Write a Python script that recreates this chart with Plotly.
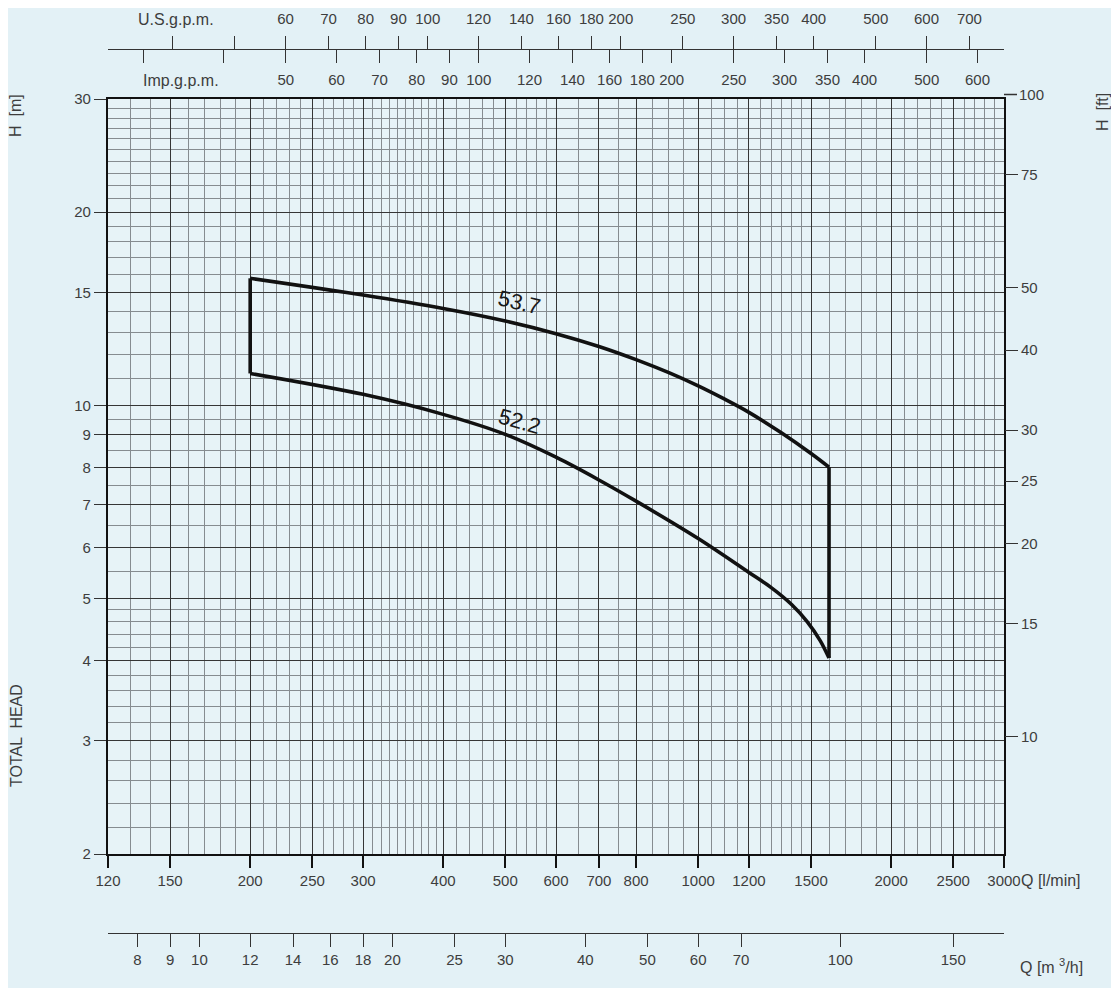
import math
import plotly.graph_objects as go

# ---------------- data ----------------
q_upper = [200, 300, 400, 500, 600, 700, 800, 900, 1000, 1100, 1200, 1350, 1500, 1600]
h_upper = [15.77, 14.85, 14.15, 13.53, 12.93, 12.35, 11.78, 11.24, 10.72, 10.22, 9.75, 9.05, 8.41, 8.01]
q_lower = [200, 300, 400, 500, 600, 700, 800, 1000, 1200, 1300, 1400, 1480, 1550, 1600]
h_lower = [11.21, 10.40, 9.68, 9.01, 8.30, 7.65, 7.09, 6.20, 5.49, 5.20, 4.89, 4.60, 4.30, 4.04]

curve_labels = ["53.7", "52.2"]
label_q = [527, 527]
label_h = [14.48, 9.42]

q_lmin_ticks = [120, 150, 200, 250, 300, 400, 500, 600, 700, 800, 1000, 1200, 1500, 2000, 2500, 3000]
q_lmin_minor = ([130, 140, 160, 170, 180, 190]
                + [210, 220, 230, 240, 260, 270, 280, 290]
                + [310, 320, 330, 340, 350, 360, 370, 380, 390]
                + [420, 440, 460, 480, 520, 540, 560, 580]
                + [650, 750, 850, 900, 950, 1050, 1100, 1150]
                + [1250, 1300, 1350, 1400, 1450, 1600, 1700, 1800, 1900]
                + [2100, 2200, 2300, 2400, 2600, 2700, 2800, 2900])
h_m_ticks = [2, 3, 4, 5, 6, 7, 8, 9, 10, 15, 20, 30]
h_m_minor = ([2.2, 2.4, 2.6, 2.8, 3.2, 3.4, 3.6, 3.8, 4.2, 4.4, 4.6, 4.8]
             + [5.5, 6.5, 7.5, 8.5, 9.5]
             + [11, 12, 13, 14, 16, 17, 18, 19, 21, 22, 23, 24, 25, 26, 27, 28, 29])
h_ft_ticks = [10, 15, 20, 25, 30, 40, 50, 75, 100]
us_gpm_ticks = [60, 70, 80, 90, 100, 120, 140, 160, 180, 200, 250, 300, 350, 400, 500, 600, 700]
us_gpm_unlabeled = [40, 50]
imp_gpm_ticks = [50, 60, 70, 80, 90, 100, 120, 140, 160, 180, 200, 250, 300, 350, 400, 500, 600]
imp_gpm_unlabeled = [30, 40]
m3h_ticks = [8, 9, 10, 12, 14, 16, 18, 20, 25, 30, 40, 50, 60, 70, 100, 150]

# unit conversions
L_PER_USGAL = 3.78541
L_PER_IMPGAL = 4.54609
M_TO_FT = 3.28084
LMIN_TO_M3H = 0.06

Q_MIN, Q_MAX = 120, 3000
H_MIN, H_MAX = 2, 30

# ---------------- layout geometry ----------------
OFF = 8                      # page body margin of the browser
W, HGT = 1119 - OFF, 988 - OFF


def fx(px):
    return (px - OFF) / W


def fy(py):
    return 1 - (py - OFF) / HGT


X0, X1 = fx(108), fx(1004)
Y0, Y1 = fy(854), fy(99)

FONT = "Liberation Sans, Arial, sans-serif"
TXT = "#3d3d3d"
tick_font = dict(family=FONT, size=15, color=TXT)
LINE = "#111111"

fig = go.Figure()

curve_style = dict(color=LINE, width=3.6, shape="spline", smoothing=0.9)
fig.add_trace(go.Scatter(x=q_upper, y=h_upper, mode="lines", line=curve_style,
                         hoverinfo="skip", showlegend=False))
fig.add_trace(go.Scatter(x=q_lower, y=h_lower, mode="lines", line=curve_style,
                         hoverinfo="skip", showlegend=False))
# closing edges of the operating range
fig.add_trace(go.Scatter(x=[q_upper[0], q_lower[0]], y=[h_upper[0], h_lower[0]], mode="lines",
                         line=dict(color=LINE, width=3.6), hoverinfo="skip", showlegend=False))
fig.add_trace(go.Scatter(x=[q_upper[-1], q_lower[-1]], y=[h_upper[-1], h_lower[-1]], mode="lines",
                         line=dict(color=LINE, width=3.6), hoverinfo="skip", showlegend=False))

# invisible companions on the secondary unit axes
ghost = dict(mode="lines", line=dict(width=0), hoverinfo="skip", showlegend=False, opacity=0)
fig.add_trace(go.Scatter(x=[q / L_PER_USGAL for q in q_upper], y=h_upper, xaxis="x2", yaxis="y", **ghost))
fig.add_trace(go.Scatter(x=[q / L_PER_IMPGAL for q in q_upper], y=h_upper, xaxis="x3", yaxis="y", **ghost))
fig.add_trace(go.Scatter(x=[q * LMIN_TO_M3H for q in q_upper], y=h_upper, xaxis="x4", yaxis="y", **ghost))
fig.add_trace(go.Scatter(x=q_upper, y=[h * M_TO_FT for h in h_upper], xaxis="x", yaxis="y2", **ghost))

lx = [math.log10(Q_MIN), math.log10(Q_MAX)]
ly = [math.log10(H_MIN), math.log10(H_MAX)]
lft = [math.log10(H_MIN * M_TO_FT), math.log10(H_MAX * M_TO_FT)]

top_line_y = fy(49)
bottom_line_y = fy(933)

common_sec = dict(type="log", tickangle=0, ticks="outside", ticklen=13, tickwidth=1.4,
                  tickcolor="#333", tickfont=tick_font, showgrid=False, zeroline=False,
                  automargin=False)

fig.update_layout(
    width=W, height=HGT, autosize=False,
    margin=dict(l=0, r=0, t=0, b=0, pad=0, autoexpand=False),
    paper_bgcolor="#e3f1f6", plot_bgcolor="#e7f3f7",
    font=dict(family=FONT, color=TXT),
    showlegend=False, hovermode=False,
    xaxis=dict(
        type="log", range=lx, domain=[X0, X1], anchor="y", automargin=False,
        tickvals=q_lmin_ticks, ticktext=[str(v) for v in q_lmin_ticks], tickangle=0,
        ticks="outside", ticklen=12, tickwidth=1.6, tickcolor=LINE,
        tickfont=tick_font,
        showline=True, linecolor=LINE, linewidth=2.2, mirror=True,
        showgrid=True, gridcolor="#363636", gridwidth=1.3, zeroline=False,
        minor=dict(tickvals=q_lmin_minor, showgrid=True, gridcolor="#868c90", gridwidth=1, ticks=""),
    ),
    yaxis=dict(
        type="log", range=ly, domain=[Y0, Y1], anchor="x", automargin=False,
        tickvals=h_m_ticks, ticktext=[str(v) for v in h_m_ticks],
        ticks="outside", ticklen=12, tickwidth=1.4, tickcolor="#333",
        tickfont=tick_font,
        showline=True, linecolor=LINE, linewidth=2.2, mirror=True,
        showgrid=True, gridcolor="#363636", gridwidth=1.3, zeroline=False,
        minor=dict(tickvals=h_m_minor, showgrid=True, gridcolor="#868c90", gridwidth=1, ticks=""),
    ),
    yaxis2=dict(
        range=lft, overlaying="y", anchor="x", side="right",
        tickvals=[v for v in h_ft_ticks if v <= H_MAX * M_TO_FT],
        ticktext=[str(v) for v in h_ft_ticks if v <= H_MAX * M_TO_FT],
        showline=False, **common_sec,
    ),
    xaxis2=dict(
        range=[math.log10(Q_MIN / L_PER_USGAL), math.log10(Q_MAX / L_PER_USGAL)],
        overlaying="x", anchor="free", position=top_line_y, side="top",
        tickvals=us_gpm_ticks, ticktext=[str(v) for v in us_gpm_ticks], ticklabelstandoff=6,
        minor=dict(tickvals=us_gpm_unlabeled, ticks="outside", ticklen=13, tickwidth=1.4,
                   tickcolor="#333", showgrid=False),
        showline=True, linecolor="#333", linewidth=1.4, **common_sec,
    ),
    xaxis3=dict(
        range=[math.log10(Q_MIN / L_PER_IMPGAL), math.log10(Q_MAX / L_PER_IMPGAL)],
        overlaying="x", anchor="free", position=top_line_y, side="bottom",
        tickvals=imp_gpm_ticks, ticktext=[str(v) for v in imp_gpm_ticks], ticklabelstandoff=4,
        minor=dict(tickvals=imp_gpm_unlabeled, ticks="outside", ticklen=13, tickwidth=1.4,
                   tickcolor="#333", showgrid=False),
        showline=False, **common_sec,
    ),
    xaxis4=dict(
        range=[math.log10(Q_MIN * LMIN_TO_M3H), math.log10(Q_MAX * LMIN_TO_M3H)],
        overlaying="x", anchor="free", position=bottom_line_y, side="bottom",
        tickvals=m3h_ticks, ticktext=[str(v) for v in m3h_ticks],
        showline=True, linecolor="#333", linewidth=1.4, **common_sec,
    ),
)

# ft ticks that lie just above the frame (e.g. 100 ft): tick-like arrow + label
for v in h_ft_ticks:
    if v > H_MAX * M_TO_FT:
        ypos = Y0 + (math.log10(v) - lft[0]) / (lft[1] - lft[0]) * (Y1 - Y0)
        fig.add_annotation(xref="paper", yref="paper", x=X1, y=ypos, text=str(v),
                           showarrow=True, arrowhead=0, arrowwidth=1.4, arrowcolor="#333",
                           ax=27, ay=0, standoff=0, font=tick_font)

ann_font = dict(family=FONT, size=16, color=TXT)
annotations = [
    dict(text="Q [l/min]", x=fx(1051), y=fy(880)),
    dict(text="Q [m <sup>3</sup>/h]", x=fx(1051), y=fy(966)),
    dict(text="U.S.g.p.m.", x=fx(176), y=fy(19)),
    dict(text="Imp.g.p.m.", x=fx(181), y=fy(80)),
    dict(text="H  [m]", x=fx(16), y=fy(116), textangle=-90),
    dict(text="TOTAL  HEAD", x=fx(16), y=fy(736), textangle=-90),
    dict(text="H  [ft]", x=fx(1103), y=fy(112), textangle=-90),
]
for a in annotations:
    fig.add_annotation(xref="paper", yref="paper", showarrow=False, font=ann_font,
                       xanchor="center", yanchor="middle", **a)

angles = [13, 16]
for txt, q, h, ang in zip(curve_labels, label_q, label_h, angles):
    fig.add_annotation(x=math.log10(q), y=math.log10(h), xref="x", yref="y", text=txt,
                       showarrow=False, textangle=ang,
                       font=dict(family=FONT, size=22, color="#1a1a1a"))

fig.write_html("out.html", config={"displayModeBar": False})
